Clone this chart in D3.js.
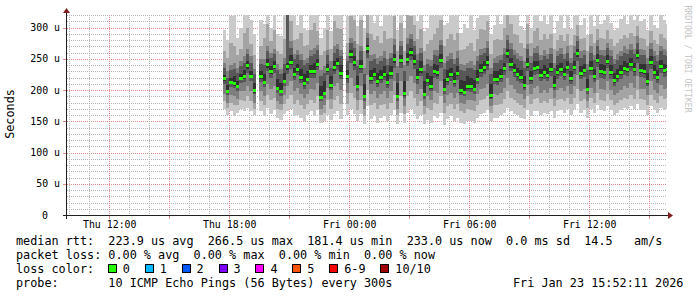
<!DOCTYPE html>
<html>
<head>
<meta charset="utf-8">
<script src="https://cdnjs.cloudflare.com/ajax/libs/d3/7.8.5/d3.min.js"></script>
<style>
body { margin: 0; background: #fff; }
svg { display: block; font-family: "DejaVu Sans Mono", monospace; }
.pre { white-space: pre; }
</style>
</head>
<body>
<div id="chart"></div>
<script>
// smokeping style latency graph, 10 pings per step, values in microseconds
// one value every 10 minutes starting Thu 17:40, null = no data
var stepMinutes = 10;
var firstStep = Date.UTC(2026, 0, 22, 17, 40);

var median = [218,198,212,210,206,219,221,239,222,199,
null,221,212,241,229,238,203,198,214,237,
244,225,233,220,210,217,230,229,241,188,
195,233,207,236,242,226,null,221,257,244,
206,238,190,266,218,225,214,220,225,212,
226,249,190,248,194,249,260,245,220,233,
193,215,206,230,228,248,201,217,225,214,
226,199,196,206,205,201,217,231,236,244,
191,217,217,222,234,258,241,231,225,220,
207,241,218,234,236,223,228,223,233,207,
228,233,225,236,218,236,258,226,231,201,
234,222,248,230,228,246,228,215,222,228,
234,233,241,233,255,231,230,214,244,228,
220,238,231,233];

// sorted pings, p1 = fastest ... p10 = slowest
var p1 = [170,160,166,158,164,170,166,172,166,160,
null,166,158,172,162,168,156,152,162,166,
170,158,160,156,150,160,166,158,168,148,
150,160,152,162,166,154,null,160,170,162,
150,162,145,174,154,160,148,156,158,150,
160,168,146,164,148,164,170,162,154,160,
146,152,148,158,156,164,144,154,158,150,
156,148,146,150,150,148,156,162,164,168,
150,156,156,160,164,172,166,162,160,156,
154,168,158,166,166,160,164,162,166,156,
166,168,164,170,160,170,178,164,168,156,
170,164,176,168,166,174,168,160,164,168,
172,170,174,170,178,168,168,160,174,168,
164,172,168,170];
var p2 = [182,172,180,176,176,184,182,190,182,170,
null,182,176,192,184,188,170,168,178,186,
192,178,184,176,170,178,184,180,190,160,
164,184,170,184,190,178,null,178,196,188,
168,184,158,200,176,180,170,176,178,170,
180,192,160,190,162,190,198,188,174,182,
162,172,168,180,178,190,164,174,178,170,
178,166,164,170,168,166,176,184,186,190,
164,176,176,178,186,198,188,184,180,176,
172,190,178,186,188,180,182,180,186,174,
184,186,182,188,178,188,202,182,186,172,
188,180,196,184,182,194,184,176,180,184,
188,186,192,186,200,186,184,176,192,184,
180,190,186,188];
var p3 = [194,180,192,190,186,198,198,206,198,180,
null,198,190,210,202,206,182,178,192,206,
214,198,204,194,188,194,202,200,212,170,
176,204,186,206,212,200,null,196,220,206,
184,206,170,224,194,198,188,194,198,188,
198,214,170,214,174,214,222,212,194,202,
174,190,184,198,196,214,180,192,196,188,
196,180,178,184,184,182,194,202,204,210,
174,194,192,196,204,220,208,202,196,194,
186,208,194,204,206,196,200,196,204,188,
200,204,198,206,194,206,224,198,202,182,
204,196,216,202,200,214,200,192,196,200,
206,204,212,204,222,202,202,192,214,200,
196,208,202,204];
var p4 = [210,192,205,203,199,212,213,228,214,193,
null,213,205,230,220,228,196,191,206,226,
234,216,224,211,202,209,220,219,232,182,
188,224,200,226,232,218,null,212,244,232,
198,228,183,252,209,215,205,211,216,204,
217,236,183,236,187,238,248,234,210,222,
186,206,198,219,217,236,194,208,215,205,
216,192,190,198,197,194,209,221,225,232,
185,209,208,213,224,244,230,221,215,211,
200,230,209,224,226,214,218,214,223,200,
218,223,216,226,209,226,246,217,221,194,
224,213,237,220,218,235,218,207,213,218,
224,223,231,223,244,221,220,206,234,218,
211,228,221,223];
var p5 = [215,195,209,207,203,216,218,234,219,196,
null,218,209,236,226,234,200,195,211,232,
240,221,229,216,206,214,226,225,237,185,
192,229,204,231,238,223,null,217,252,239,
203,234,187,260,214,221,210,216,221,208,
222,244,187,243,191,244,255,240,216,228,
190,211,202,225,223,243,198,213,221,210,
222,196,193,202,201,198,214,227,231,239,
188,214,213,218,230,252,236,227,221,216,
204,236,214,230,232,219,224,219,229,204,
224,229,221,232,214,232,253,222,227,198,
230,218,244,226,224,242,224,211,218,224,
230,229,237,229,250,227,226,210,240,224,
216,234,227,229];
var p6 = [224,208,220,222,214,226,232,246,230,212,
null,230,226,250,238,246,218,212,228,244,
256,236,242,234,226,230,240,244,250,206,
214,242,222,246,252,240,null,232,264,254,
222,248,210,272,232,236,228,232,238,226,
238,258,212,256,214,260,268,256,234,246,
214,228,222,242,240,258,218,232,236,228,
238,216,214,222,220,216,232,242,246,254,
210,230,230,234,244,266,252,242,236,232,
222,252,230,246,246,234,240,236,244,222,
240,244,236,246,230,246,266,238,242,218,
246,234,258,242,240,256,240,228,234,240,
246,244,252,244,264,242,242,228,254,240,
232,248,242,240];
var p7 = [236,220,232,234,228,238,244,258,244,226,
null,242,240,262,252,258,232,226,242,325,
268,250,256,248,240,244,254,258,264,222,
228,256,236,260,266,254,null,246,276,268,
238,262,226,284,246,250,242,246,252,240,
252,272,228,270,230,274,282,270,248,260,
230,242,238,256,254,272,234,246,250,242,
252,232,230,236,236,232,246,256,260,268,
226,244,244,248,258,280,266,256,250,246,
236,266,244,260,260,248,254,250,258,236,
254,258,250,260,244,260,278,252,256,232,
260,248,270,256,254,268,254,242,248,254,
260,258,264,258,276,256,256,242,266,254,
246,262,256,254];
var p8 = [244,230,240,244,236,246,254,266,254,234,
null,250,250,270,260,266,242,234,252,330,
278,258,264,258,248,252,264,268,272,232,
238,264,246,270,274,264,null,254,284,278,
248,270,236,292,256,258,252,254,262,250,
260,282,238,278,240,284,290,278,258,268,
240,250,248,264,264,280,244,254,260,250,
262,242,240,244,246,240,254,266,268,278,
236,252,254,256,268,288,276,264,260,254,
246,274,254,268,270,256,264,258,268,244,
262,268,258,270,252,270,286,262,264,242,
270,256,280,264,264,276,264,250,258,262,
270,266,274,266,286,266,264,252,276,262,
256,270,266,262];
var p9 = [262,252,276,270,256,266,292,300,274,256,
null,270,284,306,278,296,262,258,282,336,
310,280,282,292,270,272,296,308,294,256,
262,296,266,310,300,298,null,276,318,312,
274,312,262,326,290,280,286,276,294,282,
284,318,262,308,262,322,318,304,282,298,
262,274,280,290,300,312,270,282,290,280,
292,264,266,270,276,262,282,298,296,310,
258,280,282,280,300,322,306,290,288,276,
268,306,276,294,300,280,290,282,290,266,
280,288,278,290,272,288,304,282,284,262,
290,276,298,284,282,296,282,270,276,282,
288,284,292,286,302,284,282,270,294,280,
274,290,284,280];
var p10 = [296,280,318,328,284,300,334,340,312,290,
null,312,306,346,300,338,290,286,330,345,
350,318,304,332,300,296,338,348,326,284,
300,340,294,352,330,344,null,318,356,358,
302,354,300,360,336,308,334,302,340,320,
318,358,296,350,300,362,346,350,310,342,
294,300,328,318,346,354,304,308,334,318,
338,292,306,300,326,296,316,342,330,352,
290,304,324,306,344,358,346,320,334,302,
296,346,300,334,338,310,330,306,326,292,
310,320,300,322,298,318,334,304,316,288,
320,302,328,306,312,326,308,296,300,314,
318,306,324,312,332,310,314,296,326,304,
300,320,312,306];

// axis labels
var yTickValues = [0, 50, 100, 150, 200, 250, 300];
var yTickLabels = ["0", "50 u", "100 u", "150 u", "200 u", "250 u", "300 u"];
var xTickTimes = [Date.UTC(2026,0,22,12), Date.UTC(2026,0,22,18), Date.UTC(2026,0,23,0), Date.UTC(2026,0,23,6), Date.UTC(2026,0,23,12)];
var xTickLabels = ["Thu 12:00", "Thu 18:00", "Fri 00:00", "Fri 06:00", "Fri 12:00"];

// legend
var lossLabels = ["0", "1", "2", "3", "4", "5", "6-9", "10/10"];
var lossColors = ["#26ff00", "#00b8ff", "#0059ff", "#7e00ff", "#ff00ff", "#ff5500", "#ff0000", "#a10000"];
var statLines = [
    "median rtt:  223.9 us avg  266.5 us max  181.4 us min  233.0 us now  0.0 ms sd  14.5   am/s",
    "packet loss: 0.00 % avg  0.00 % max  0.00 % min  0.00 % now"
];
var probeText = "probe:       10 ICMP Echo Pings (56 Bytes) every 300s";
var stampText = "Fri Jan 23 15:52:11 2026";

var viewEnd = Date.UTC(2026, 0, 23, 15, 53, 20);
var stepMs = stepMinutes * 60000;

var svg = d3.select("#chart").append("svg")
    .attr("width", 697)
    .attr("height", 297);

var x = d3.scaleUtc()
    .domain([new Date(viewEnd - 30 * 3600000), new Date(viewEnd)])
    .range([67, 667]);
var y = d3.scaleLinear().domain([0, 320]).range([215, 15]);

// grid first, dotted: every other pixel as a 1x1 square
var grid = svg.append("g");
var minorCol = "#b4b4b4";
var majorCol = "#e48c8c";

function dotted(x1, y1, x2, y2, col) {
    var pts = [];
    if (y1 === y2) {
        for (var xx = x1; xx < x2; xx += 2) pts.push([xx, y1]);
    } else {
        for (var yy = y1; yy < y2; yy += 2) pts.push([x1, yy]);
    }
    grid.append("path")
        .attr("d", pts.map(p => "M" + p[0] + "," + p[1] + "h1v1h-1z").join(""))
        .attr("fill", col)
        .attr("shape-rendering", "crispEdges");
}

d3.range(10, 321, 10).forEach(function(v) {
    var yy = Math.round(y(v));
    dotted(67, yy, 667, yy, v % 50 === 0 ? majorCol : minorCol);
});
var hours = d3.utcHour.range(x.domain()[0], x.domain()[1]);
hours.forEach(function(h) {
    var xx = Math.round(x(h));
    if (xx < 68) return;
    var major = h.getUTCHours() % 3 === 0;
    dotted(xx, 15, xx, 215, major ? majorCol : minorCol);
    if (major) {
        svg.append("rect").attr("x", xx).attr("y", 216).attr("width", 1).attr("height", 3)
            .attr("fill", majorCol).attr("shape-rendering", "crispEdges");
    }
});
yTickValues.slice(1).forEach(function(v) {
    var yy = Math.round(y(v));
    svg.append("rect").attr("x", 63).attr("y", yy).attr("width", 3).attr("height", 1)
        .attr("fill", majorCol).attr("shape-rendering", "crispEdges");
});

svg.append("clipPath").attr("id", "plot")
    .append("rect").attr("x", 67).attr("y", 15).attr("width", 600).attr("height", 200);

var pings = [p1, p2, p3, p4, p5, p6, p7, p8, p9, p10];
var steps = median.map(function(m, i) {
    return {
        t: firstStep + i * stepMs,
        med: m,
        p: pings.map(function(a) { return a[i]; })
    };
}).filter(function(d) { return d.med != null; });

var data = svg.append("g").attr("clip-path", "url(#plot)");

// smoke: outer pair lightest, inner pair darkest
var smokeColors = ["#cacaca", "#a4a4a4", "#7e7e7e", "#585858", "#323232"];
smokeColors.forEach(function(c, k) {
    data.append("g").selectAll("rect")
        .data(steps)
        .enter()
        .append("rect")
        .attr("x", d => x(d.t))
        .attr("width", d => x(d.t + stepMs) - x(d.t))
        .attr("y", d => y(d.p[9 - k]))
        .attr("height", d => y(d.p[k]) - y(d.p[9 - k]))
        .attr("fill", c)
        .attr("shape-rendering", "crispEdges");
});

// median, colored by loss (no loss in this period)
data.append("g").selectAll("rect")
    .data(steps)
    .enter()
    .append("rect")
    .attr("x", d => x(d.t))
    .attr("width", d => x(d.t + stepMs) - x(d.t))
    .attr("y", d => y(d.med) - 1.5)
    .attr("height", 3)
    .attr("fill", lossColors[0])
    .attr("shape-rendering", "crispEdges");

// axes lines with arrows
svg.append("line").attr("x1", 63).attr("x2", 669).attr("y1", 215.5).attr("y2", 215.5)
    .attr("stroke", "#1f1f1f").attr("shape-rendering", "crispEdges");
svg.append("line").attr("x1", 66.5).attr("x2", 66.5).attr("y1", 219).attr("y2", 12)
    .attr("stroke", "#1f1f1f").attr("shape-rendering", "crispEdges");
svg.append("path").attr("d", "M673,215.5 L668,212 L668,219 Z").attr("fill", "#801f1f");
svg.append("path").attr("d", "M66.5,8 L63,13 L70,13 Z").attr("fill", "#801f1f");

// tick labels through d3 axes
var xAxis = d3.axisBottom(x)
    .tickValues(xTickTimes.map(t => new Date(t)))
    .tickFormat((d, i) => xTickLabels[i])
    .tickSize(0)
    .tickPadding(6.3);
var gx = svg.append("g").attr("transform", "translate(0,215)").call(xAxis);
gx.select(".domain").remove();
gx.selectAll("text").attr("font-family", "DejaVu Sans Mono").attr("font-size", "9.9px").attr("fill", "#000");

var yAxis = d3.axisLeft(y)
    .tickValues(yTickValues)
    .tickFormat((d, i) => yTickLabels[i])
    .tickSize(0)
    .tickPadding(7);
var gy = svg.append("g").attr("transform", "translate(67,0)").call(yAxis);
gy.select(".domain").remove();
gy.selectAll("text")
    .attr("font-family", "DejaVu Sans Mono").attr("font-size", "9.9px").attr("fill", "#000")
    .attr("dx", (d, i) => yTickLabels[i].indexOf(" ") < 0 ? -12 : 0);

svg.append("text")
    .attr("transform", "translate(14,114) rotate(-90)")
    .attr("text-anchor", "middle")
    .attr("font-size", "11.8px")
    .text("Seconds");

svg.append("text")
    .attr("transform", "translate(685,59) rotate(90)")
    .attr("text-anchor", "middle")
    .attr("font-size", "8.1px")
    .attr("fill", "#c4c4c4")
    .text("RRDTOOL / TOBI OETIKER");

// legend block
var cw = 7.1;
var legend = svg.append("g").attr("font-size", "11.8px").attr("fill", "#000");
statLines.forEach(function(s, i) {
    legend.append("text").attr("class", "pre").attr("xml:space", "preserve")
        .attr("x", 16).attr("y", 245.3 + i * 14).text(s);
});
legend.append("text").attr("x", 16).attr("y", 273.3).text("loss color:");
var sx = 16 + 13 * cw - 0.5;
lossLabels.forEach(function(l, i) {
    legend.append("rect")
        .attr("x", Math.round(sx) + 0.5).attr("y", 264.5)
        .attr("width", 8).attr("height", 8)
        .attr("fill", lossColors[i]).attr("stroke", "#000")
        .attr("shape-rendering", "crispEdges");
    legend.append("text").attr("x", sx + 15).attr("y", 273.3).text(l);
    sx += 15 + l.length * cw + 14.8;
});
legend.append("text").attr("class", "pre").attr("xml:space", "preserve")
    .attr("x", 16).attr("y", 287.3).text(probeText);
legend.append("text").attr("x", 513).attr("y", 287.3).text(stampText);
</script>
</body>
</html>
